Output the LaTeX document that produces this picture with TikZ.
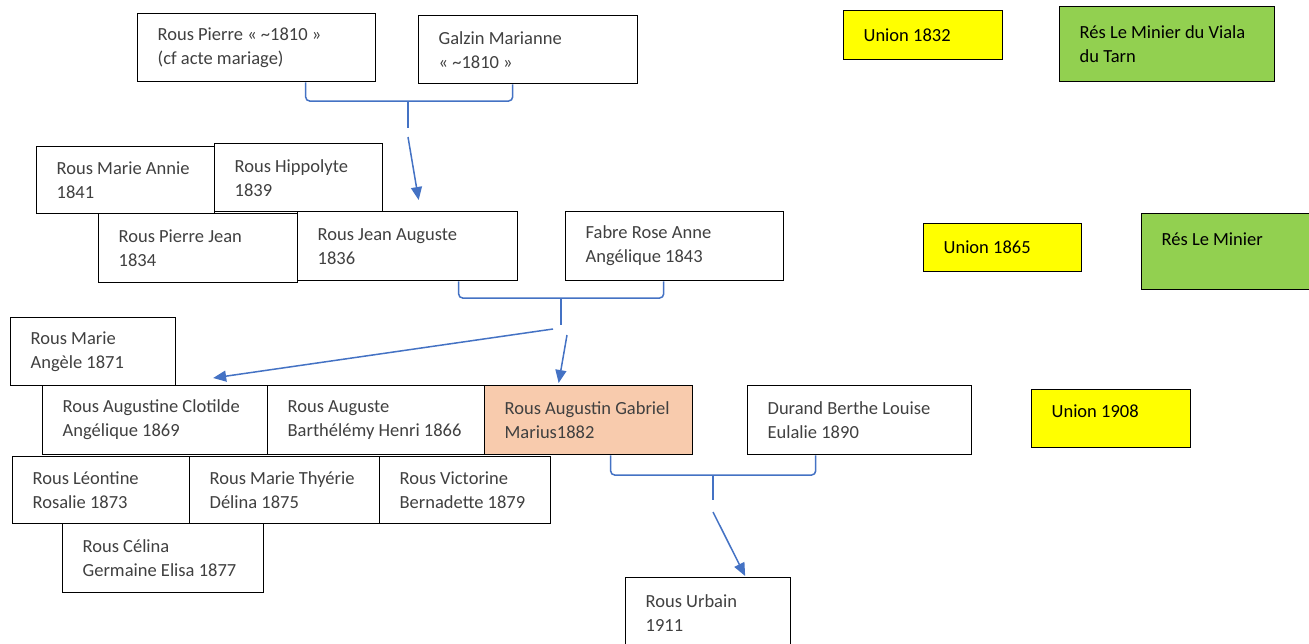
\documentclass[tikz,border=0pt]{standalone}
\usepackage{fontspec}
\setmainfont{Carlito}
\usepackage{tikz}
\usepackage{xcolor}
\usetikzlibrary{arrows.meta, calc}
\definecolor{mBlue}{HTML}{4472C4}
\definecolor{mText}{HTML}{404040}
\definecolor{mYellow}{HTML}{FFFF00}
\definecolor{mGreen}{HTML}{92D050}
\definecolor{mPeach}{HTML}{F8CBAD}

\begin{document}
\begin{tikzpicture}[
  x=1pt, y=-1pt,
  person/.style={draw=black, line width=1.3pt, anchor=north west, inner xsep=0pt,
                 inner ysep=0pt, text width=#1, align=left, text=mText,
                 font=\fontsize{18.5}{24}\selectfont,
                 execute at begin node={\leftskip=20pt\spaceskip=0pt\xspaceskip=0pt}},
  union/.style={person=#1, fill=mYellow, text=black},
  place/.style={person=#1, fill=mGreen, text=black},
  link/.style={draw=mBlue, line width=1.5pt, rounded corners=4pt},
  descent/.style={draw=mBlue, line width=1.5pt, -{Triangle[length=13pt, width=11pt]}},
]
  \useasboundingbox[fill=white] (0,0) rectangle (1309,643);

  % parents 1832
  \node[person=238pt, minimum height=68pt] (pierre) at (137,13)
    {Rous Pierre « \textasciitilde1810 »\\(cf acte mariage)};
  \node[person=219pt, minimum height=68pt] (galzin) at (418,15)
    {Galzin Marianne\\« \textasciitilde1810 »};
  \node[union=159pt, minimum height=49pt] (u1832) at (843,10) {Union 1832};
  \node[place=215pt, minimum height=75pt] (res1) at (1059,6)
    {Rés Le Minier du Viala\\du Tarn};

  % children
  \node[person=178pt, minimum height=67pt] (marieannie) at (36,146) {Rous Marie Annie\\1841};
  \node[person=168pt, minimum height=68pt] (hippolyte) at (214,143) {Rous Hippolyte\\1839};
  \node[person=199pt, minimum height=69pt] (pierrejean) at (98,213) {Rous Pierre Jean\\1834};
  \node[person=220pt, minimum height=69pt] (jean) at (297,211) {Rous Jean Auguste\\1836};
  \node[person=218pt, minimum height=69pt] (fabre) at (565,211)
    {Fabre Rose Anne\\Angélique 1843};
  \node[union=158pt, minimum height=48pt] (u1865) at (923,223) {Union 1865};
  \node[place=172pt, minimum height=76pt, text depth=25pt] (res2) at (1141,213) {Rés Le Minier};

  % grandchildren
  \node[person=165pt, minimum height=68pt] (marieangele) at (10,317) {Rous Marie\\Angèle 1871};
  \node[person=225pt, minimum height=69pt] (augustine) at (42,385)
    {Rous Augustine Clotilde\\Angélique 1869};
  \node[person=217pt, minimum height=69pt] (auguste) at (267,385)
    {Rous Auguste\\Barthélémy Henri 1866};
  \node[person=208pt, minimum height=69pt, fill=mPeach] (augustin) at (484,385)
    {Rous Augustin Gabriel\\Marius1882};
  \node[person=224pt, minimum height=69pt] (durand) at (747,385)
    {Durand Berthe Louise\\Eulalie 1890};
  \node[union=159pt, minimum height=58pt, text depth=15pt] (u1908) at (1031,389) {Union 1908};
  \node[person=177pt, minimum height=67pt] (leontine) at (12,456) {Rous Léontine\\Rosalie 1873};
  \node[person=190pt, minimum height=67pt] (therie) at (189,456)
    {Rous Marie Thyérie\\Délina 1875};
  \node[person=171pt, minimum height=67pt] (victorine) at (379,456)
    {Rous Victorine\\Bernadette 1879};
  \node[person=201pt, minimum height=69pt] (celina) at (62,523)
    {Rous Célina\\Germaine Elisa 1877};
  \node[person=165pt, minimum height=70pt] (urbain) at (625,577) {Rous Urbain\\1911};

  % unions and descent
  \coordinate (k1) at (408,101);
  \draw[link] ([xshift=49pt]pierre.south) |- (k1) -| ([xshift=-15.5pt]galzin.south);
  \draw[link] (k1) -- ++(0,27);
  \draw[descent] ($(k1)+(0,36)$) -- ([shift={(11,-11)}]jean.north);

  \coordinate (k2) at (561,298);
  \draw[link] ([xshift=51pt]jean.south) |- (k2) -| ([xshift=-11pt]fabre.south);
  \draw[link] (k2) -- ++(0,27);
  \draw[descent] ($(k2)+(-8,31)$) -- ([shift={(58,-7)}]augustine.north);
  \draw[descent] ($(k2)+(6,37)$) -- ([shift={(-30,-2)}]augustin.north);

  \coordinate (k3) at (713,475);
  \draw[link] ([xshift=22pt]augustin.south) |- (k3) -| ([xshift=-44pt]durand.south);
  \draw[link] (k3) -- ++(0,25);
  \draw[descent] ($(k3)+(0,37)$) -- ([shift={(37,-1)}]urbain.north);
\end{tikzpicture}
\end{document}
